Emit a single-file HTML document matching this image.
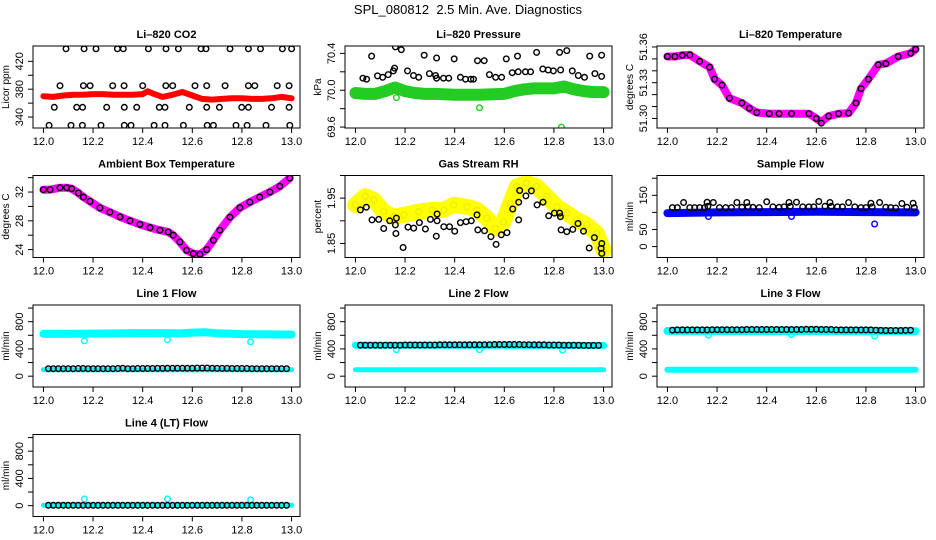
<!DOCTYPE html>
<html><head><meta charset="utf-8"><style>
body{margin:0;background:#fff}
svg{display:block;font-family:"Liberation Sans",Arial,sans-serif}
</style></head><body>
<svg id="chart" width="936" height="540" viewBox="0 0 936 540" xmlns="http://www.w3.org/2000/svg">
<rect width="936" height="540" fill="#fff"/>
<text x="468" y="14" text-anchor="middle" font-size="13">SPL_080812&#160; 2.5 Min. Ave. Diagnostics</text>
</svg>
<script>
// ---- shared x tick labels ----
const xTicks = [12.0, 12.2, 12.4, 12.6, 12.8, 13.0];

// ---- Panel 1: CO2 ----
const co2BandT = [12.00,12.04,12.08,12.12,12.16,12.20,12.24,12.28,12.32,12.36,12.40,12.42,12.44,12.48,12.52,12.56,12.60,12.64,12.68,12.72,12.76,12.80,12.84,12.88,12.92,12.96,13.00];
const co2BandV = [370,369,371,372,372,373,373,372,372,372,373,377,374,369,372,376,371,366,365,366,367,367,366,366,367,369,367];
const co2PtsT = [12.091,12.164,12.212,12.298,12.322,12.423,12.494,12.544,12.635,12.655,12.752,12.826,12.875,12.963,13.0,
 12.067,12.161,12.188,12.279,12.325,12.4,12.493,12.521,12.611,12.658,12.732,12.826,12.852,12.942,12.99,
 12.044,12.134,12.158,12.255,12.326,12.376,12.467,12.49,12.588,12.658,12.709,12.799,12.826,12.919,12.99,
 12.023,12.111,12.157,12.232,12.326,12.353,12.446,12.49,12.564,12.66,12.685,12.776,12.821,12.897,12.993];
const co2PtsV = [438,438,438,438,438,438,438,438,438,438,438,438,438,438,438,
 385,385,385,385,385,385,385,385,385,385,385,385,385,385,385,
 354,354,354,354,354,354,354,354,354,354,354,354,354,354,354,
 328,328,328,328,328,328,328,328,328,328,328,328,328,328,328];

// ---- Panel 2: Pressure ----
const presBandT = [12.00,12.04,12.08,12.12,12.16,12.20,12.24,12.28,12.32,12.40,12.50,12.60,12.64,12.68,12.72,12.80,12.84,12.88,12.92,12.96,13.00];
const presBandV = [69.97,69.96,69.96,69.99,70.03,69.99,69.97,69.96,69.96,69.95,69.95,69.96,69.99,70.01,70.02,70.02,70.04,70.01,69.99,69.98,69.98];
const presGreenT = [12.165,12.5,12.83];
const presGreenV = [69.92,69.81,69.60];
const presPtsT = [12.065,12.089,12.11,12.132,12.153,12.158,12.161,12.185,12.21,12.234,12.255,12.277,12.298,12.323,12.327,12.327,12.355,12.376,12.398,12.423,12.444,12.465,12.476,12.492,12.519,12.54,12.565,12.589,12.608,12.632,12.653,12.656,12.685,12.706,12.73,12.755,12.777,12.798,12.823,12.827,12.852,12.874,12.898,12.923,12.944,12.965,12.992,12.992,12.03,12.045];
const presPtsV = [70.37,70.155,70.14,70.17,70.21,70.24,70.47,70.44,70.21,70.16,70.14,70.38,70.18,70.16,70.35,70.13,70.13,70.13,70.34,70.14,70.12,70.12,70.12,70.32,70.32,70.17,70.14,70.14,70.34,70.19,70.37,70.2,70.2,70.2,70.41,70.23,70.22,70.21,70.41,70.22,70.43,70.21,70.16,70.14,70.37,70.18,70.38,70.15,70.13,70.12];

// ---- Panel 3: Li-820 temperature ----
const tempT = [12.0,12.03,12.06,12.09,12.13,12.17,12.19,12.22,12.25,12.3,12.33,12.36,12.41,12.45,12.5,12.57,12.6,12.62,12.65,12.69,12.73,12.76,12.78,12.81,12.85,12.88,12.93,12.98,13.0];
const tempV = [51.352,51.352,51.353,51.3533,51.348,51.343,51.333,51.328,51.317,51.313,51.3085,51.305,51.304,51.304,51.304,51.304,51.30,51.297,51.302,51.304,51.3045,51.313,51.325,51.333,51.345,51.346,51.352,51.3547,51.358];
const tempPtsV = [51.352,51.352,51.353,51.3533,51.348,51.343,51.333,51.328,51.317,51.313,51.3085,51.305,51.304,51.304,51.304,51.304,51.30,51.296,51.302,51.304,51.3045,51.313,51.325,51.333,51.345,51.346,51.352,51.3547,51.358];

// ---- Panel 4: Ambient box temperature ----
const ambT = [12.0,12.027,12.067,12.094,12.114,12.141,12.161,12.188,12.228,12.268,12.309,12.349,12.389,12.43,12.47,12.503,12.523,12.55,12.577,12.604,12.631,12.658,12.685,12.711,12.752,12.792,12.832,12.872,12.913,12.953,12.993];
const ambV = [32.33,32.33,32.6,32.6,32.47,31.87,31.3,30.7,29.8,29.2,28.55,28.0,27.5,27.06,26.7,26.45,26.0,25.06,23.9,23.44,23.35,24.0,25.3,26.7,28.5,29.83,30.6,31.3,32.0,32.8,33.95];
const ambPtsV = [32.33,32.33,32.6,32.6,32.47,31.87,31.3,30.7,29.8,29.2,28.55,28.0,27.5,27.06,26.7,26.45,26.0,25.06,23.9,23.44,23.35,24.0,25.3,26.7,28.5,29.83,30.6,31.3,32.0,32.8,33.95];

// ---- Panel 5: Gas stream RH ----
const rhBandT = [12.0,12.04,12.074,12.114,12.154,12.195,12.255,12.309,12.356,12.396,12.45,12.49,12.53,12.564,12.597,12.624,12.651,12.69,12.73,12.77,12.812,12.852,12.893,12.933,12.973,13.0];
const rhBandV = [1.935,1.954,1.946,1.92,1.909,1.913,1.92,1.924,1.924,1.935,1.931,1.924,1.906,1.883,1.898,1.939,1.976,1.983,1.976,1.954,1.931,1.917,1.902,1.891,1.872,1.835];
const rhPtsT = [12.02,12.044,12.067,12.094,12.114,12.138,12.161,12.163,12.165,12.192,12.212,12.235,12.258,12.282,12.302,12.326,12.329,12.329,12.356,12.379,12.4,12.423,12.446,12.467,12.49,12.493,12.52,12.546,12.567,12.588,12.611,12.634,12.658,12.658,12.662,12.687,12.709,12.732,12.756,12.779,12.802,12.823,12.826,12.829,12.852,12.876,12.897,12.919,12.942,12.963,12.993,12.99,12.993];
const rhPtsV = [1.924,1.93,1.902,1.903,1.883,1.9,1.891,1.872,1.906,1.841,1.886,1.884,1.896,1.882,1.903,1.866,1.915,1.9,1.887,1.887,1.877,1.896,1.898,1.9,1.913,1.88,1.878,1.865,1.848,1.869,1.874,1.926,1.941,1.902,1.967,1.955,1.966,1.935,1.941,1.911,1.917,1.917,1.909,1.88,1.876,1.881,1.894,1.877,1.84,1.863,1.85,1.839,1.828];

// ---- Panel 6: Sample flow ----
const sfBandT = [12.0,12.2,12.4,12.6,12.8,13.0];
const sfBandV = [98,100,101,102,101,100];
const sfBlueT = [12.165,12.5,12.835];
const sfBlueV = [88,88,66];
const sfPtsT = [12.02,12.04,12.065,12.09,12.11,12.13,12.15,12.16,12.163,12.185,12.21,12.235,12.258,12.28,12.3,12.32,12.325,12.345,12.37,12.4,12.425,12.45,12.47,12.49,12.495,12.52,12.545,12.57,12.59,12.61,12.635,12.655,12.66,12.685,12.705,12.73,12.755,12.78,12.8,12.82,12.825,12.855,12.88,12.9,12.92,12.945,12.965,12.99,12.995];
const sfPtsV = [114,114,129,114,114,114,114,130,118,129,114,114,114,129,115,129,116,115,114,131,116,115,116,129,118,130,116,116,116,132,118,129,118,116,116,129,116,114,114,127,116,129,115,114,113,126,115,127,114];

// ---- Line flows (shared black-point times) ----
const lineT = [12.02,12.04,12.06,12.08,12.10,12.12,12.14,12.16,12.18,12.20,12.22,12.24,12.26,12.28,12.30,12.32,12.34,12.36,12.38,12.40,12.42,12.44,12.46,12.48,12.50,12.52,12.54,12.56,12.58,12.60,12.62,12.64,12.66,12.68,12.70,12.72,12.74,12.76,12.78,12.80,12.82,12.84,12.86,12.88,12.90,12.92,12.94,12.96,12.98];
const outT = [12.165,12.5,12.835];
const l1Black = [110,110,110,110,110,110,112,112,110,110,110,110,110,110,112,115,110,110,112,112,112,112,114,114,115,115,115,116,116,116,118,118,118,115,114,114,114,112,112,112,112,110,110,110,110,110,110,110,110];
const l1BandV = [620,622,625,628,632,630,628,640,645,630,618,615,612,612];
const l1BandT = [12.0,12.1,12.2,12.3,12.4,12.5,12.55,12.6,12.65,12.7,12.8,12.9,12.95,13.0];
const l1Out = [520,535,505];
const l2Black = [455,455,455,455,455,455,455,455,455,458,458,458,458,458,458,458,460,460,460,460,460,460,460,460,460,462,462,465,465,465,465,465,465,462,462,460,460,460,458,458,458,455,455,455,455,452,452,452,452];
const l2BandT = [12.0,13.0]; const l2BandV = [455,450];
const l2Out = [390,390,380];
const l3Black = [675,680,680,680,680,680,680,680,682,682,682,682,682,682,682,685,685,685,685,685,685,685,685,685,685,685,685,688,688,688,685,685,685,680,680,680,680,680,680,680,680,675,672,670,670,670,670,672,675];
const l3BandT = [12.0,13.0]; const l3BandV = [665,660];
const l3Out = [600,610,590];
const l4Black = [5,5,5,5,5,5,5,5,5,5,5,5,5,5,5,5,5,5,5,5,5,5,5,5,5,5,5,5,5,5,5,5,5,5,5,5,5,5,5,5,5,5,5,5,5,5,5,5,5];
const l4BandT = [12.0,13.0]; const l4BandV = [5,5];
const l4Out = [100,100,85];
const lowBandT = [12.0,13.0]; const lowBandV = [95,95];

const NS = 'http://www.w3.org/2000/svg';
const svg = document.getElementById('chart');
function mk(tag, attrs, parent) {
  const e = document.createElementNS(NS, tag);
  for (const k in attrs) e.setAttribute(k, attrs[k]);
  (parent || svg).appendChild(e);
  return e;
}

function panel(col, row, cfg) {
  const L = 33 + 312 * col, T = 46 + 129.5 * row, W = 267, H = 82;
  const g = mk('g', {});
  
  
  const xs = t => L + (t - 11.958) / (13.034 - 11.958) * W;
  const ys = v => T + H - (v - cfg.ylim[0]) / (cfg.ylim[1] - cfg.ylim[0]) * H;
  const clipId = 'c' + col + '_' + row;
  const cp = mk('clipPath', {id: clipId}, g);
  mk('rect', {x: L, y: T, width: W, height: H}, cp);
  const plot = mk('g', {'clip-path': 'url(#' + clipId + ')'}, g);
  
  
  function band(tArr, vArr, color, w, nm) {
    const pts = tArr.map((t, i) => xs(t).toFixed(1) + ',' + ys(vArr[i]).toFixed(1)).join(' ');
    const pl = mk('polyline', {points: pts, fill: 'none', stroke: color, 'stroke-width': w, 'stroke-linejoin': 'round', 'stroke-linecap': 'round'}, plot);
    
    
  }
  function points(tArr, vArr, color, nm, r) {
    tArr.forEach((t, i) => {
      const c = mk('circle', {cx: xs(t).toFixed(1), cy: ys(vArr[i]).toFixed(1), r: r || 2.8, fill: 'none', stroke: color, 'stroke-width': 1.4}, plot);
      
      
    });
  }
  cfg.draw(band, points);
  const box = mk('rect', {x: L, y: T, width: W, height: H, fill: 'none', stroke: '#000', 'stroke-width': 1}, g);
  
  
  xTicks.forEach(t => {
    mk('line', {x1: xs(t), x2: xs(t), y1: T + H, y2: T + H + 5, stroke: '#000'}, g);
    const tx = mk('text', {x: xs(t), y: T + H + 17, 'text-anchor': 'middle', 'font-size': 11}, g);
    tx.textContent = t.toFixed(1);
    
    
  });
  cfg.yticks.forEach(v => {
    mk('line', {x1: L - 5, x2: L, y1: ys(v), y2: ys(v), stroke: '#000'}, g);
  });
  cfg.ylabels.forEach(v => {
    const y = ys(v), x = L - 10;
    const tx = mk('text', {x: x, y: y, 'text-anchor': 'middle', 'font-size': 11, transform: 'rotate(-90 ' + x + ' ' + y + ')'}, g);
    tx.textContent = cfg.fmt ? cfg.fmt(v) : String(v);
    
    
  });
  const yx = L - 24, yy = T + H / 2;
  const yt = mk('text', {x: yx, y: yy, 'text-anchor': 'middle', 'font-size': 10, transform: 'rotate(-90 ' + yx + ' ' + yy + ')'}, g);
  yt.textContent = cfg.ytitle;
  
  
  const tt = mk('text', {x: L + W / 2, y: T - 8, 'text-anchor': 'middle', 'font-size': 11, 'font-weight': 'bold'}, g);
  tt.textContent = cfg.title;
  
  
}

const flowTicks = [0, 200, 400, 600, 800, 1000];
const flowLabels = [0, 400, 800];

panel(0, 0, {name: 'co2-panel', title: 'Li\u2013820 CO2', ytitle: 'Licor ppm', ylim: [324.3, 442], yticks: [340,360,380,400,420], ylabels: [340,380,420],
  draw: (band, points) => { band(co2BandT, co2BandV, '#f00', 6, 'co2-series'); points(co2PtsT, co2PtsV, '#000', 'co2-point'); }});
panel(1, 0, {name: 'pressure-panel', title: 'Li\u2013820 Pressure', ytitle: 'kPa', ylim: [69.59, 70.48], yticks: [69.6,69.8,70.0,70.2,70.4], ylabels: [69.6,70.0,70.4], fmt: v => v.toFixed(1),
  draw: (band, points) => { band(presBandT, presBandV, '#2c2', 12, 'pressure-series'); points(presGreenT, presGreenV, '#2c2', 'pressure-outlier'); points(presPtsT, presPtsV, '#000', 'pressure-point'); }});
panel(2, 0, {name: 'li820-temp-panel', title: 'Li\u2013820 Temperature', ytitle: 'degrees C', ylim: [51.292, 51.3608], yticks: [51.30,51.31,51.32,51.33,51.34,51.35,51.36], ylabels: [51.30,51.33,51.36], fmt: v => v.toFixed(2),
  draw: (band, points) => { band(tempT, tempV, '#f0f', 8, 'temp-series'); points(tempT, tempPtsV, '#000', 'temp-point'); }});
panel(0, 1, {name: 'ambient-panel', title: 'Ambient Box Temperature', ytitle: 'degrees C', ylim: [22.9, 34.3], yticks: [24,26,28,30,32,34], ylabels: [24,28,32],
  draw: (band, points) => { band(ambT, ambV, '#f0f', 8, 'ambient-series'); points(ambT, ambPtsV, '#000', 'ambient-point'); }});
panel(1, 1, {name: 'rh-panel', title: 'Gas Stream RH', ytitle: 'percent', ylim: [1.819, 2.0], yticks: [1.85,1.90,1.95,2.00], ylabels: [1.85,1.95], fmt: v => v.toFixed(2),
  draw: (band, points) => { band(rhBandT, rhBandV, '#ff0', 16, 'rh-series'); points(rhBandT, rhBandV, '#ee0', 'rh-yellow-point', 3); points(rhPtsT, rhPtsV, '#000', 'rh-point'); }});
panel(2, 1, {name: 'sample-flow-panel', title: 'Sample Flow', ytitle: 'ml/min', ylim: [-32, 208], yticks: [0,50,100,150,200], ylabels: [0,50,150],
  draw: (band, points) => { band(sfBandT, sfBandV, '#00f', 8, 'sample-flow-series'); points(sfBlueT, sfBlueV, '#00f', 'sample-flow-outlier'); points(sfPtsT, sfPtsV, '#000', 'sample-flow-point'); }});
panel(0, 2, {name: 'line1-panel', title: 'Line 1 Flow', ytitle: 'ml/min', ylim: [-159, 1045], yticks: flowTicks, ylabels: flowLabels,
  draw: (band, points) => { band(l1BandT, l1BandV, '#0ff', 8, 'line1-series'); band(lowBandT, lowBandV, '#0ff', 5, 'line1-low-series'); points(outT, l1Out, '#0ff', 'line1-outlier'); points(lineT, l1Black, '#000', 'line1-point'); }});
panel(1, 2, {name: 'line2-panel', title: 'Line 2 Flow', ytitle: 'ml/min', ylim: [-159, 1045], yticks: flowTicks, ylabels: flowLabels,
  draw: (band, points) => { band(l2BandT, l2BandV, '#0ff', 7, 'line2-series'); band(lowBandT, lowBandV, '#0ff', 5, 'line2-low-series'); points(outT, l2Out, '#0ff', 'line2-outlier'); points(lineT, l2Black, '#000', 'line2-point'); }});
panel(2, 2, {name: 'line3-panel', title: 'Line 3 Flow', ytitle: 'ml/min', ylim: [-159, 1045], yticks: flowTicks, ylabels: flowLabels,
  draw: (band, points) => { band(l3BandT, l3BandV, '#0ff', 8, 'line3-series'); band(lowBandT, lowBandV, '#0ff', 6, 'line3-low-series'); points(outT, l3Out, '#0ff', 'line3-outlier'); points(lineT, l3Black, '#000', 'line3-point'); }});
panel(0, 3, {name: 'line4-panel', title: 'Line 4 (LT) Flow', ytitle: 'ml/min', ylim: [-159, 1045], yticks: flowTicks, ylabels: flowLabels,
  draw: (band, points) => { band(l4BandT, l4BandV, '#0ff', 5, 'line4-series'); points(outT, l4Out, '#0ff', 'line4-outlier'); points(lineT, l4Black, '#000', 'line4-point'); }});
</script>
</body></html>
